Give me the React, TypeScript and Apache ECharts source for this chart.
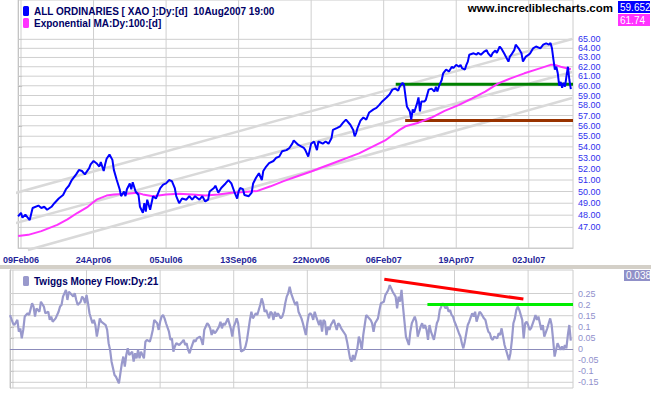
import React, { useEffect, useRef } from 'react';
import * as echarts from 'echarts';

// ---- Data (trading-day index; day 2 = 09Feb06) ----
const xaoName = 'ALL ORDINARIES [ XAO ]:Dy:[d]  10Aug2007 19:00';
const emaName = 'Exponential MA:Dy:100:[d]';
const tmfName = 'Twiggs Money Flow:Dy:21';

const xaoDays = [0,2,3,5,8,10,14,16,18,20,23,25,28,31,33,35,37,40,42,44,46,49,50,52,54,56,57,59,60,61,63,65,66,68,70,71,73,74,75,77,78,79,81,83,84,86,87,88,89,91,93,95,96,98,100,102,104,106,108,109,111,113,116,118,120,122,125,127,129,131,132,135,136,138,140,143,145,147,149,151,152,153,155,156,159,161,162,164,166,168,169,171,173,176,178,180,182,185,187,189,190,193,195,197,198,200,202,204,206,207,210,212,214,216,217,220,222,224,226,229,231,232,233,234,236,238,240,242,245,247,249,251,254,256,258,260,262,263,265,266,267,268,270,271,272,273,275,276,277,278,280,281,283,285,287,288,289,290,292,293,295,297,299,300,302,304,305,306,308,309,310,311,314,316,317,319,321,323,324,326,327,329,330,332,333,335,338,339,340,342,343,345,347,348,350,352,353,355,357,360,362,364,366,367,368,369,370,371,372,373,374,375,376,377,378,379,380,381];
const xaoClose = [47.9,48.2,47.8,48.05,47.6,48.6,48.8,48.6,48.7,48.45,48.7,49.0,49.4,49.7,50.2,50.5,51.0,51.5,51.9,51.8,51.5,52.05,52.4,52.7,52.5,52.2,52.6,51.8,52.4,52.9,53.3,52.8,51.9,51.0,50.2,49.6,50.0,49.6,50.2,50.7,50.2,50.8,50.0,49.7,48.7,48.2,49.0,48.3,49.3,48.45,49.6,49.4,49.7,50.3,50.6,50.7,51.0,50.9,50.3,49.6,49.0,49.4,49.3,49.6,49.3,49.6,49.3,49.6,49.15,49.3,50.0,50.3,50.5,49.9,50.3,50.7,51.0,50.7,50.0,49.4,50.0,50.3,50.2,49.7,49.6,49.9,50.7,51.2,51.6,51.0,51.8,52.2,52.5,52.7,53.0,53.1,53.6,53.7,53.9,54.3,54.6,54.2,54.05,53.9,53.7,53.1,54.3,54.5,53.7,54.5,54.3,54.5,54.3,54.8,55.6,55.8,55.95,56.3,56.6,56.1,55.6,55.0,55.3,55.8,56.5,56.8,56.6,57.3,57.6,57.75,58.05,58.4,58.8,59.1,59.6,59.7,59.5,59.9,60.3,60.1,58.95,57.9,57.4,56.6,57.6,57.3,58.2,58.8,57.4,58.4,58.4,58.55,59.6,59.7,59.4,59.9,59.4,59.9,60.6,61.3,61.7,61.5,62.0,61.85,62.2,62.0,62.2,61.85,61.7,62.2,62.55,63.3,63.45,63.3,63.5,63.3,63.6,63.8,63.45,63.1,63.45,63.75,63.5,64.2,64.0,63.45,62.55,63.1,63.3,63.8,64.4,64.0,63.45,62.55,63.1,63.3,63.45,64.0,64.2,64.0,64.4,64.55,64.4,64.6,64.0,62.8,61.7,62.0,61.3,60.0,60.4,59.8,60.3,59.9,61.0,62.0,60.6,59.652];

const emaDays = [0,7,16,27,34,41,48,54,61,66,75,82,86,93,102,111,120,129,138,147,156,165,174,183,193,202,211,217,235,253,263,267,276,285,294,304,313,322,331,340,349,358,367,370,374,381];
const emaValues = [46.3,46.4,46.7,47.2,47.65,48.2,48.7,49.3,49.65,49.75,49.8,49.9,49.75,49.6,49.75,49.8,49.75,49.65,49.75,49.9,49.95,50.05,50.45,50.9,51.35,51.75,52.2,52.5,53.4,54.6,55.6,55.95,56.3,56.8,57.45,58.05,58.7,59.4,60.25,60.8,61.3,61.75,62.2,62.2,62.0,61.74];

const tmfDays = [0,2,3,5,6,7,8,9,10,12,13,15,16,17,18,20,21,23,24,26,27,28,29,31,33,34,35,36,38,39,40,41,43,44,45,46,48,49,50,51,52,53,54,56,57,58,59,60,61,62,65,66,67,68,69,70,71,72,74,75,76,77,78,79,80,81,83,84,85,86,87,88,89,91,92,93,95,96,97,98,100,101,102,103,104,105,106,108,109,110,111,112,113,115,117,118,119,120,121,122,123,125,126,127,129,130,131,132,134,135,136,137,138,139,140,142,143,144,145,146,147,148,150,151,152,153,154,155,156,157,159,160,161,162,163,164,165,167,168,169,170,171,172,173,174,176,177,178,179,180,181,182,184,185,186,187,188,189,190,191,193,194,195,196,197,198,199,201,202,203,204,205,206,207,208,210,211,212,213,214,215,216,217,218,220,221,222,223,224,225,228,229,230,231,232,233,234,236,237,238,239,240,241,242,245,246,247,248,250,251,252,254,255,256,257,258,259,260,262,263,264,265,266,267,268,269,271,272,273,274,275,276,277,279,280,281,282,283,284,285,286,288,289,290,291,292,293,294,296,297,298,299,300,301,302,303,305,306,307,308,309,310,311,312,314,315,316,317,318,319,320,322,323,324,325,326,327,328,329,331,332,333,334,335,336,337,339,340,341,342,343,344,345,346,348,349,350,351,352,353,354,356,357,358,359,360,361,362,363,365,366,367,368,369,370,371,372,374,375,376,377,378,379,380,381];
const tmfValues = [0.153,0.116,0.108,0.131,0.078,0.093,0.048,0.086,0.146,0.161,0.153,0.206,0.191,0.146,0.183,0.168,0.213,0.191,0.161,0.168,0.131,0.146,0.123,0.138,0.168,0.191,0.198,0.236,0.266,0.221,0.258,0.251,0.236,0.251,0.221,0.198,0.213,0.236,0.228,0.206,0.243,0.206,0.161,0.116,0.131,0.108,0.056,0.093,0.138,0.123,0.108,0.086,0.026,-0.004,-0.057,-0.087,-0.117,-0.125,-0.155,-0.110,-0.065,-0.034,-0.079,-0.027,0.003,-0.027,-0.012,-0.057,-0.019,-0.042,-0.004,-0.042,-0.012,-0.042,0.033,0.041,0.033,0.056,0.086,0.131,0.116,0.086,0.123,0.146,0.153,0.138,0.116,0.078,0.041,0.048,-0.012,0.011,0.026,0.018,0.033,0.041,0.018,0.026,-0.004,-0.019,0.003,0.041,0.033,0.048,0.056,0.041,0.018,0.086,0.116,0.108,0.093,0.063,0.086,0.071,0.078,0.101,0.123,0.093,0.116,0.108,0.123,0.138,0.093,0.056,0.101,0.116,0.138,0.116,0.056,-0.012,-0.004,0.011,0.041,0.086,0.131,0.168,0.138,0.161,0.153,0.176,0.198,0.228,0.206,0.168,0.176,0.138,0.168,0.161,0.131,0.168,0.146,0.161,0.138,0.146,0.168,0.206,0.236,0.251,0.281,0.251,0.213,0.198,0.213,0.168,0.153,0.138,0.116,0.063,0.116,0.153,0.161,0.153,0.131,0.168,0.146,0.108,0.131,0.078,0.131,0.123,0.063,0.101,0.086,0.108,0.131,0.108,0.086,0.116,0.108,0.093,0.063,0.033,-0.004,-0.042,-0.057,-0.027,-0.050,0.003,0.056,0.033,-0.004,0.063,0.108,0.153,0.131,0.116,0.078,0.116,0.138,0.176,0.206,0.213,0.243,0.254,0.266,0.288,0.273,0.258,0.236,0.183,0.236,0.213,0.266,0.191,0.123,0.056,0.018,0.078,0.116,0.131,0.146,0.123,0.056,0.101,0.116,0.093,0.108,0.086,0.041,0.108,0.078,0.041,0.078,0.116,0.131,0.176,0.191,0.206,0.183,0.191,0.168,0.176,0.153,0.146,0.123,0.108,0.071,0.056,0.026,0.003,0.033,0.071,0.108,0.123,0.161,0.146,0.168,0.123,0.146,0.168,0.161,0.138,0.131,0.101,0.078,0.071,0.048,0.041,0.056,0.048,0.071,0.063,0.093,0.056,0.018,-0.004,-0.050,-0.019,0.041,0.116,0.138,0.176,0.191,0.176,0.131,0.048,0.116,0.123,0.108,0.086,0.093,0.131,0.153,0.131,0.146,0.116,0.086,0.108,0.056,0.093,0.116,0.138,0.108,0.041,-0.034,-0.004,0.026,-0.004,0.011,-0.004,0.018,0.003,0.063,0.108,0.038];

// Drawn trend channel and horizontal levels (price panel)
const channelADays = [-6.8, 381.9];
const channelAValues = [49.7, 65.03];
const channelBDays = [-6.8, 381.9];
const channelBValues = [47.19, 61.44];
const channelCDays = [6.8, 381.9];
const channelCValues = [45.2, 58.74];
const resistanceDays = [260.3, 382.5];
const resistanceLevel = 60.15;
const supportDays = [266.8, 382.5];
const supportLevel = 56.5;

// Drawn lines (money flow panel)
const divergenceDays = [254.3, 348.8];
const divergenceValues = [0.314, 0.225];
const tmfLevelDays = [283.6, 382.5];
const tmfLevel = 0.2;

// Axes
const labelDays = [2, 52, 102, 152, 202, 252, 302, 352];
const dateLabels = ['09Feb06', '24Apr06', '05Jul06', '13Sep06', '22Nov06', '06Feb07', '19Apr07', '02Jul07'];
const priceTicks = [47, 48, 49, 50, 51, 52, 53, 54, 55, 56, 57, 58, 59, 60, 61, 62, 63, 64, 65];
const tmfTicks = [-0.15, -0.1, -0.05, 0, 0.05, 0.1, 0.15, 0.2, 0.25];
const dayMin = 0;
const dayMax = 382.5;
const priceMin = 45.36;
const priceMax = 69.56;
const tmfMin = -0.1757;
const tmfMax = 0.3559;

const FONT = 'Liberation Sans';
const GRID = '#cfcfcf';
const BORDER = '#cccccc';

function lnPairs(days: number[], vals: number[]) {
  return days.map((d, i) => [d, Math.log(vals[i])]);
}
function pairs(days: number[], vals: number[]) {
  return days.map((d, i) => [d, vals[i]]);
}

function buildOption(): any {
  const lineBase = {
    type: 'line',
    symbol: 'none',
    silent: true,
    emphasis: { disabled: true },
  };
  const gridLine = (name: string, xi: number, data: number[][]) => ({
    ...lineBase,
    name,
    xAxisIndex: xi,
    yAxisIndex: xi,
    z: 1,
    data,
    lineStyle: { color: GRID, width: 1 },
  });
  const xBase = {
    type: 'value',
    min: dayMin,
    max: dayMax,
    axisLine: { show: true, lineStyle: { color: BORDER } },
    axisTick: { show: false },
    splitLine: { show: false },
  };
  const lastXao = xaoClose[xaoClose.length - 1];
  const lastEma = emaValues[emaValues.length - 1];
  const lastTmf = tmfValues[tmfValues.length - 1];
  const lnMin = Math.log(priceMin);
  const lnMax = Math.log(priceMax);

  const gridSeries: any[] = [];
  priceTicks.forEach((v, i) => {
    gridSeries.push(gridLine('gph' + i, 0, [[dayMin, Math.log(v)], [dayMax, Math.log(v)]]));
  });
  tmfTicks.filter((v) => v !== 0).forEach((v, i) => {
    gridSeries.push(gridLine('gbh' + i, 1, [[dayMin, v], [dayMax, v]]));
  });
  labelDays.forEach((d, i) => {
    gridSeries.push(gridLine('gpv' + i, 0, [[d, lnMin], [d, lnMax]]));
    gridSeries.push(gridLine('gbv' + i, 1, [[d, tmfMin], [d, tmfMax]]));
  });

  return {
    animation: false,
    backgroundColor: '#ffffff',
    textStyle: { fontFamily: FONT },
    grid: [
      { left: 10, right: 78, top: 0, height: 248, show: true, borderColor: BORDER, borderWidth: 1 },
      { left: 10, right: 78, top: 270, height: 118, show: true, borderColor: BORDER, borderWidth: 1 },
    ],
    xAxis: [
      {
        ...xBase,
        gridIndex: 0,
        axisLabel: {
          show: true,
          customValues: labelDays,
          margin: 7,
          fontSize: 9,
          fontWeight: 'bold',
          fontFamily: FONT,
          color: '#1f1f99',
          formatter: (v: number) => {
            const i = labelDays.indexOf(Math.round(v));
            return i >= 0 ? dateLabels[i] : '';
          },
        },
      },
      {
        ...xBase,
        gridIndex: 1,
        axisLabel: { show: false },
      },
    ],
    yAxis: [
      {
        type: 'value',
        gridIndex: 0,
        position: 'right',
        min: lnMin,
        max: lnMax,
        axisLine: { show: true, lineStyle: { color: '#c4c4c4' } },
        axisTick: { show: true, length: 4, lineStyle: { color: '#b0b0b0' }, customValues: priceTicks.map((v) => Math.log(v)) },
        splitLine: { show: false },
        axisLabel: {
          customValues: priceTicks.map((v) => Math.log(v)),
          margin: 5,
          fontSize: 9,
          fontFamily: FONT,
          color: '#3030ee',
          formatter: (v: number) => Math.exp(v).toFixed(2),
        },
      },
      {
        type: 'value',
        gridIndex: 1,
        position: 'right',
        min: tmfMin,
        max: tmfMax,
        axisLine: { show: true, lineStyle: { color: '#c4c4c4' } },
        axisTick: { show: true, length: 4, lineStyle: { color: '#b0b0b0' }, customValues: tmfTicks },
        splitLine: { show: false },
        axisLabel: {
          customValues: tmfTicks,
          margin: 5,
          fontSize: 9,
          fontFamily: FONT,
          color: '#9090cc',
          formatter: (v: number) => String(Number(v.toFixed(2))),
        },
      },
    ],
    legend: [
      {
        orient: 'vertical',
        left: 18,
        top: 1,
        itemWidth: 6,
        itemHeight: 10,
        itemGap: 2,
        icon: 'roundRect',
        selectedMode: false,
        textStyle: { fontSize: 10, fontWeight: 'bold', fontFamily: FONT, color: '#000066' },
        data: [xaoName, emaName],
      },
      {
        orient: 'vertical',
        left: 18,
        top: 271,
        itemWidth: 6,
        itemHeight: 10,
        icon: 'roundRect',
        selectedMode: false,
        textStyle: { fontSize: 10, fontWeight: 'bold', fontFamily: FONT, color: '#000066' },
        data: [tmfName],
      },
    ],
    graphic: [
      { type: 'rect', left: 0, top: 265, shape: { width: 651, height: 4 }, style: { fill: '#d4d0c8' }, silent: true },
      {
        type: 'text', right: 38, top: 2,
        style: { text: 'www.incrediblecharts.com', font: 'bold 11.5px ' + FONT, fill: '#000000' },
        silent: true,
      },
      { type: 'rect', shape: { x: 618, y: 1, width: 32, height: 12 }, style: { fill: '#0000ff' }, silent: true },
      { type: 'text', x: 620, y: 7, style: { text: lastXao.toFixed(3), font: '10px ' + FONT, fill: '#ffffff', verticalAlign: 'middle' }, silent: true },
      { type: 'rect', shape: { x: 618, y: 14, width: 32, height: 12 }, style: { fill: '#ff33ff' }, silent: true },
      { type: 'text', x: 620, y: 20, style: { text: lastEma.toFixed(2), font: '10px ' + FONT, fill: '#ffffff', verticalAlign: 'middle' }, silent: true },
      { type: 'rect', shape: { x: 624, y: 270, width: 26, height: 11 }, style: { fill: '#9090c8' }, silent: true },
      { type: 'text', x: 626, y: 275.5, style: { text: lastTmf.toFixed(3), font: '10px ' + FONT, fill: '#ffffff', verticalAlign: 'middle' }, silent: true },
    ],
    series: [
      ...gridSeries,
      { ...lineBase, name: 'chA', xAxisIndex: 0, yAxisIndex: 0, clip: false, z: 1, data: lnPairs(channelADays, channelAValues), lineStyle: { color: '#d9d9d9', width: 2.5 } },
      { ...lineBase, name: 'chB', xAxisIndex: 0, yAxisIndex: 0, clip: false, z: 1, data: lnPairs(channelBDays, channelBValues), lineStyle: { color: '#d9d9d9', width: 2.5 } },
      { ...lineBase, name: 'chC', xAxisIndex: 0, yAxisIndex: 0, clip: false, z: 1, data: lnPairs(channelCDays, channelCValues), lineStyle: { color: '#d9d9d9', width: 2.5 } },
      { ...lineBase, name: 'res', xAxisIndex: 0, yAxisIndex: 0, z: 2, data: lnPairs(resistanceDays, [resistanceLevel, resistanceLevel]), lineStyle: { color: '#008000', width: 3 } },
      { ...lineBase, name: 'sup', xAxisIndex: 0, yAxisIndex: 0, z: 2, data: lnPairs(supportDays, [supportLevel, supportLevel]), lineStyle: { color: '#993300', width: 3 } },
      { ...lineBase, name: emaName, xAxisIndex: 0, yAxisIndex: 0, z: 3, color: '#ff33ff', data: lnPairs(emaDays, emaValues), lineStyle: { color: '#ff33ff', width: 2 } },
      { ...lineBase, name: xaoName, xAxisIndex: 0, yAxisIndex: 0, z: 4, color: '#0000ff', data: lnPairs(xaoDays, xaoClose), lineStyle: { color: '#0000ff', width: 2 } },
      {
        ...lineBase, name: tmfName, xAxisIndex: 1, yAxisIndex: 1, z: 3, color: '#9999cc',
        data: pairs(tmfDays, tmfValues), lineStyle: { color: '#9999cc', width: 2.2 },
        markLine: { silent: true, z: 2, symbol: 'none', label: { show: false }, lineStyle: { color: '#8c8cbb', width: 1, type: 'solid' }, data: [{ yAxis: 0 }] },
      },
      { ...lineBase, name: 'div', xAxisIndex: 1, yAxisIndex: 1, z: 4, data: pairs(divergenceDays, divergenceValues), lineStyle: { color: '#ff0000', width: 3 } },
      { ...lineBase, name: 'lvl', xAxisIndex: 1, yAxisIndex: 1, z: 4, data: pairs(tmfLevelDays, [tmfLevel, tmfLevel]), lineStyle: { color: '#00ee00', width: 3 } },
    ],
  };
}

export default function App() {
  const ref = useRef<HTMLDivElement>(null);
  useEffect(() => {
    if (!ref.current) return;
    const chart = echarts.init(ref.current, undefined, { renderer: 'svg' });
    chart.setOption(buildOption());
    return () => chart.dispose();
  }, []);
  return (
    <div
      ref={ref}
      style={{ position: 'absolute', left: 0, top: 0, width: 651, height: 395, background: '#fff' }}
    />
  );
}
